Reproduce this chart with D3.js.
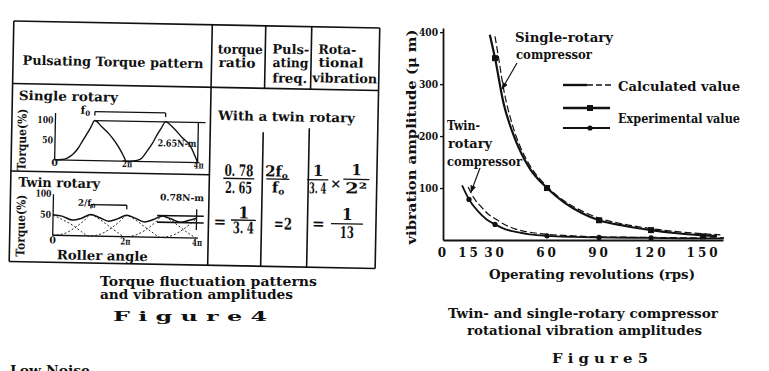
<!DOCTYPE html>
<html lang="en">
<head>
<meta charset="UTF-8">
<title>Figure 4 / Figure 5</title>
<script src="https://cdn.jsdelivr.net/npm/d3@7/dist/d3.min.js"></script>
<style>
  body { margin: 0; background: #fff; }
  svg { display: block; }
  text { font-family: "DejaVu Serif", "Liberation Serif", serif; font-weight: bold; fill: #111; }
  .ln { stroke: #111; fill: none; }
</style>
</head>
<body>
<svg id="main-svg" width="769" height="371"></svg>
<script>
'use strict';
/* ---- Figure 4 : torque patterns, angle in units of pi, torque in % ---- */
const singleAngle  = [0, 0.2, 0.35, 0.5, 0.65, 0.78, 0.9, 1.0, 1.1, 1.3, 1.5, 1.7, 1.85, 1.95, 2.0,
                      2.2, 2.4, 2.57, 2.72, 2.85, 2.97, 3.08, 3.3, 3.55, 3.78, 4.0];
const singleTorque = [0, 1, 5, 14, 30, 50, 68, 84, 100, 85, 68, 46, 25, 8, 0,
                      1, 6, 25, 45, 67, 85, 100, 86, 62, 42, 0];
const twinAngle  = [0, 0.25, 0.55, 0.8, 1.05, 1.3, 1.55, 1.8, 2.05, 2.3, 2.55, 2.8, 3.05, 3.3, 3.55, 3.8, 4.0];
const twinTorque = [49, 46, 37, 42, 51, 44, 36, 42, 51, 44, 36, 42, 51, 44, 37, 42, 47];
const cylAAngle  = [0, 0.3, 0.6, 0.85, 1.05, 1.3, 1.55, 1.8, 2.0, 2.3, 2.6, 2.85, 3.05, 3.3, 3.55, 3.8, 4.0];
const cylATorque = [0, 4, 18, 35, 50, 40, 25, 10, 0, 4, 18, 35, 50, 40, 25, 10, 0];
const cylBAngle  = [0, 0.3, 0.55, 0.8, 1.0, 1.3, 1.6, 1.85, 2.05, 2.3, 2.55, 2.8, 3.0, 3.3, 3.6, 3.85, 4.0];
const cylBTorque = [48, 36, 25, 10, 0, 4, 18, 35, 50, 40, 25, 10, 0, 4, 18, 35, 46];
const torqueTicks = [50, 100];
const angleTicks = [0, 2, 4];
const angleTickLabels = ['0', '2\u03c0', '4\u03c0'];
const singlePeriod = [1.1, 3.08];     // f0 bracket
const twinPeriod = [1.05, 2.05];      // 2f0 bracket
const singleRange = [0, 100];         // 2.65 N-m
const twinRange = [36, 52];           // 0.78 N-m

/* ---- Figure 5 : vibration amplitude (um) vs operating revolutions (rps) ---- */
const singleExpRps = [27, 30, 35, 40, 45, 50, 60, 70, 80, 90, 105, 120, 135, 150, 158];
const singleExpAmp = [395, 350, 262, 208, 168, 138, 100, 72, 52, 38, 27, 19, 13, 9, 8];
const singleCalcRps = [30, 32, 35, 40, 45, 50, 60, 70, 80, 90, 105, 120, 135, 150, 160];
const singleCalcAmp = [392, 352, 290, 222, 176, 144, 103, 75, 56, 42, 30, 22, 16, 12, 10];
const twinExpRps = [11, 15, 20, 25, 30, 35, 40, 50, 60, 75, 90, 120, 150, 162];
const twinExpAmp = [105, 78, 56, 40, 30, 22, 17, 11, 8, 6, 5, 4, 3, 3];
const twinCalcRps = [14.5, 18, 22, 26, 30, 36, 42, 50, 60, 75, 90, 120, 150, 162];
const twinCalcAmp = [102, 80, 64, 50, 41, 29, 21, 15, 11, 8, 6, 5, 4, 4];
const singleMarkRps = [30, 60, 90, 120, 150];
const singleMarkAmp = [350, 100, 38, 19, 7];
const twinMarkRps = [15, 30, 60, 90, 120];
const twinMarkAmp = [78, 30, 8, 5, 4];
const ampTicks = [100, 200, 300, 400];
const rpsTicks = [0, 15, 30, 60, 90, 120, 150];
const legendNames = ['Calculated value', 'Experimental value'];

const svg = d3.select('#main-svg');
svg.append('rect').attr('width', 769).attr('height', 371).attr('fill', '#fff');

function txt(g, s, x, y, size, w, anchor) {
    const t = g.append('text').attr('x', x).attr('y', y).style('font-size', size + 'px').text(s);
    if (w) t.attr('textLength', w).attr('lengthAdjust', 'spacingAndGlyphs');
    if (anchor) t.attr('text-anchor', anchor);
    return t;
}
function seg(g, x1, y1, x2, y2, sw) {
    return g.append('line').attr('class', 'ln')
        .attr('x1', x1).attr('y1', y1).attr('x2', x2).attr('y2', y2)
        .attr('stroke-width', sw || 1.4);
}
const zip = (a, b) => a.map((v, i) => [v, b[i]]);

svg.append('defs').append('marker')
    .attr('id', 'arr').attr('viewBox', '0 0 10 10').attr('refX', 9).attr('refY', 5)
    .attr('markerWidth', 6).attr('markerHeight', 6).attr('orient', 'auto')
    .append('path').attr('d', 'M0,1 L10,5 L0,9 Z').attr('fill', '#111');

/* ================= Figure 4 (scan is tilted a little) ================= */
const g4 = svg.append('g').attr('transform', 'rotate(1.1,196,143)');

// table frame
[[11.5, 24.5, 377.5, 24.5], [11.5, 265, 377.5, 265], [11.5, 24.5, 11.5, 265], [377.5, 24.5, 377.5, 265],
 [210, 24.5, 210, 265], [11.5, 87, 377.5, 87], [263.5, 24.5, 263.5, 87], [309.5, 24.5, 309.5, 87],
 [263, 131, 263, 265], [309, 126, 309, 265], [11.5, 174.5, 210, 174.5]]
    .forEach(d => seg(g4, d[0], d[1], d[2], d[3], 1.6));

// header
txt(g4, 'Pulsating Torque pattern', 21, 68, 13, 181);
txt(g4, 'torque', 216, 53, 13, 45);
txt(g4, 'ratio', 217, 66.5, 13, 37);
txt(g4, 'Puls-', 270.5, 52, 13, 37);
txt(g4, 'ating', 271, 65.5, 13, 36);
txt(g4, 'freq.', 271, 81, 13, 35);
txt(g4, 'Rota-', 316.5, 51.3, 13, 38);
txt(g4, 'tional', 317, 64.5, 13, 45);
txt(g4, 'vibration', 311, 80, 13, 65);

txt(g4, 'Single rotary', 18, 103.3, 13, 99);
txt(g4, 'Twin rotary', 19, 190, 13, 82);
txt(g4, 'Roller angle', 59, 262, 13, 91);
txt(g4, 'Torque(%)', 0, 0, 12, 62, 'middle').attr('transform', 'translate(26,143) rotate(-90)');
txt(g4, 'Torque(%)', 0, 0, 12, 62, 'middle').attr('transform', 'translate(26.5,229) rotate(-90)');

// single rotary torque plot
const xS = d3.scaleLinear([0, 4], [55, 198]);
const yS = d3.scaleLinear([0, 100], [162.5, 122.5]);
seg(g4, xS(0), 115.7, xS(0), yS(0), 1.3);
seg(g4, xS(0), yS(0), xS(4.05), yS(0), 1.3);
torqueTicks.forEach(v => txt(g4, v, xS(0) - 2, yS(v) + 3.5, 9.5, v === 100 ? 16 : 11, 'end'));
angleTicks.forEach((a, i) => txt(g4, angleTickLabels[i], xS(a) + (a === 0 ? 0 : 1), 168.5, 9.5, a === 0 ? 0 : 10, 'middle'));
g4.append('path').attr('class', 'ln').attr('stroke-width', 1.4)
    .attr('d', d3.line().x(d => xS(d[0])).y(d => yS(d[1])).curve(d3.curveMonotoneX)(zip(singleAngle, singleTorque)));
// 100 % reference + dimension
seg(g4, xS(singlePeriod[0]), yS(singleRange[1]), xS(4.2), yS(singleRange[1]), 1.3);
seg(g4, xS(4), yS(singleRange[1]), xS(4), yS(singleRange[0]), 1.3);
txt(g4, '2.65N-m', 157.5, 147, 9.5, 39);
// f0 bracket
const bS = yS(100) - 9;
seg(g4, xS(singlePeriod[0]), bS, xS(singlePeriod[1]), bS, 1.3);
singlePeriod.forEach(a => seg(g4, xS(a), bS, xS(a), bS + 4, 1.3));
const f0s = txt(g4, 'f', 80, 116, 11);
f0s.append('tspan').attr('dy', 2).style('font-size', '7px').text('0');

// twin rotary torque plot
const xT = d3.scaleLinear([0, 4], [54.5, 198]);
const yT = d3.scaleLinear([0, 100], [238, 196]);
seg(g4, xT(0), 197, xT(0), yT(0), 1.3);
seg(g4, xT(0), yT(0), xT(4.05), yT(0), 1.3);
torqueTicks.forEach(v => txt(g4, v, xT(0) - 2, yT(v) + 3.5, 9.5, v === 100 ? 16 : 11, 'end'));
angleTicks.forEach((a, i) => txt(g4, angleTickLabels[i], xT(a) + (a === 0 ? 0 : 1), 246, 9.5, a === 0 ? 0 : 10, 'middle'));
const lineT = d3.line().x(d => xT(d[0])).y(d => yT(d[1])).curve(d3.curveMonotoneX);
[zip(cylAAngle, cylATorque), zip(cylBAngle, cylBTorque)].forEach(d =>
    g4.append('path').attr('class', 'ln').attr('stroke-width', 0.9).attr('stroke-dasharray', '2,2').attr('d', lineT(d)));
g4.append('path').attr('class', 'ln').attr('stroke-width', 1.5).attr('d', lineT(zip(twinAngle, twinTorque)));
twinRange.forEach(v => seg(g4, xT(2.9), yT(v), xT(4.2), yT(v), 1.6));
seg(g4, xT(4), yT(twinRange[1]) - 7, xT(4), yT(twinRange[0]) + 7, 1.3);
txt(g4, '0.78N-m', 161, 201, 9, 44);
const bT = yT(51) - 10;
seg(g4, xT(twinPeriod[0]), bT, xT(twinPeriod[1]), bT, 1.3);
twinPeriod.forEach(a => seg(g4, xT(a), bT, xT(a), bT + 4, 1.3));
const f0t = txt(g4, '2/f', 79, 208, 9);
f0t.append('tspan').attr('dy', 2).style('font-size', '6px').text('0');

// ratio columns
txt(g4, 'With a twin rotary', 217.5, 119.5, 13, 137);
function frac(num, den, cx, nb, ly, db, w, size) {
    txt(g4, num, cx, nb, size, num.length > 1 ? w : 0, 'middle');
    seg(g4, cx - w / 2 - 1, ly, cx + w / 2 + 1, ly, 1.3);
    txt(g4, den, cx, db, size, den.length > 1 ? w - 2 : 0, 'middle');
}
frac('0. 78', '2. 65', 239.5, 175.2, 177.7, 192.5, 29, 16);
const n2 = txt(g4, '2f', 277, 175, 15, 0, 'middle');
n2.append('tspan').attr('dy', 2).style('font-size', '9px').text('o');
seg(g4, 267, 177.5, 290, 177.5, 1.3);
const d2 = txt(g4, 'f', 279, 191, 15, 0, 'middle');
d2.append('tspan').attr('dy', 2).style('font-size', '9px').text('o');
frac('1', '3. 4', 318.5, 173.6, 177.4, 191, 19, 15);
txt(g4, '\u00d7', 336.5, 185.5, 13, 0, 'middle');
frac('1', '2\u00b2', 357, 172, 176.3, 190.3, 24, 15);
txt(g4, '=', 221.5, 226.5, 15, 0, 'middle');
frac('1', '3. 4', 245, 217.5, 219.3, 232.5, 23, 16);
txt(g4, '=2', 284.5, 227.7, 16, 18, 'middle');
txt(g4, '=', 320, 226.5, 15, 0, 'middle');
frac('1', '13', 348.5, 217, 221, 235.2, 30, 16);
g4.selectAll('text').filter(function () { return this.textContent === '13'; }).attr('textLength', 14);

// caption
txt(svg, 'Torque fluctuation patterns', 100, 286, 13, 217);
txt(svg, 'and vibration amplitudes', 100, 298.5, 13, 193);
txt(svg, 'F i g u r e   4', 113, 320.5, 13, 154);
txt(svg, 'Low Noise', 10, 375, 13, 80);

/* ================= Figure 5 ================= */
const x5 = d3.scaleLinear([0, 161.5], [443, 723]);
const y5 = d3.scaleLinear([0, 408], [240, 28]);
const g5 = svg.append('g');

const yAxis = g5.append('g').attr('transform', `translate(${x5(0)},0)`)
    .call(d3.axisLeft(y5).tickValues(ampTicks).tickSize(3).tickSizeOuter(0).tickPadding(2));
yAxis.select('.domain').attr('stroke', '#111').attr('stroke-width', 1.8);
yAxis.selectAll('.tick line').attr('stroke', '#111').attr('stroke-width', 1.3);
yAxis.selectAll('.tick text').style('font-family', '"DejaVu Serif", serif').style('font-weight', 'bold')
    .style('font-size', '10.5px').attr('fill', '#111').attr('textLength', 19).attr('lengthAdjust', 'spacingAndGlyphs');

const xAxis = g5.append('g').attr('transform', `translate(0,${y5(0)})`)
    .call(d3.axisBottom(x5).tickValues(rpsTicks).tickSize(0).tickSizeOuter(0).tickPadding(8));
xAxis.select('.domain').attr('stroke', '#111').attr('stroke-width', 2.2);
xAxis.selectAll('.tick text').style('font-family', '"DejaVu Serif", serif').style('font-weight', 'bold')
    .style('font-size', '12px').attr('fill', '#111').style('letter-spacing', '3px');

txt(g5, 'Operating revolutions (rps)', 592, 279, 13, 206, 'middle');
txt(g5, 'vibration amplitude (\u03bc m)', 0, 0, 13, 215, 'middle').attr('transform', 'translate(416,137) rotate(-90)');

const line5 = d3.line().x(d => x5(d[0])).y(d => y5(d[1])).curve(d3.curveMonotoneX);
g5.append('path').attr('class', 'ln').attr('stroke-width', 1.2).attr('stroke-dasharray', '7,3')
    .attr('d', line5(zip(singleCalcRps, singleCalcAmp)));
g5.append('path').attr('class', 'ln').attr('stroke-width', 2.2)
    .attr('d', line5(zip(singleExpRps, singleExpAmp)));
g5.append('path').attr('class', 'ln').attr('stroke-width', 1.2).attr('stroke-dasharray', '7,3')
    .attr('d', line5(zip(twinCalcRps, twinCalcAmp)));
g5.append('path').attr('class', 'ln').attr('stroke-width', 1.8)
    .attr('d', line5(zip(twinExpRps, twinExpAmp)));

g5.selectAll('rect.sm').data(zip(singleMarkRps, singleMarkAmp)).enter().append('rect')
    .attr('class', 'sm').attr('x', d => x5(d[0]) - 3).attr('y', d => y5(d[1]) - 3)
    .attr('width', 6).attr('height', 6).attr('fill', '#111');
g5.selectAll('circle.tm').data(zip(twinMarkRps, twinMarkAmp)).enter().append('circle')
    .attr('class', 'tm').attr('cx', d => x5(d[0])).attr('cy', d => y5(d[1])).attr('r', 2.6).attr('fill', '#111');

// annotations
txt(g5, 'Single-rotary', 515, 42, 13, 98);
txt(g5, 'compressor', 516, 59, 13, 76);
seg(g5, 517, 63, 502, 89, 1.2).attr('marker-end', 'url(#arr)');
txt(g5, 'Twin-', 447, 130, 13, 33);
txt(g5, 'rotary', 448, 148, 13, 44);
txt(g5, 'compressor', 447, 165.5, 13, 75);
seg(g5, 480, 168, 471, 192, 1.2).attr('marker-end', 'url(#arr)');

// legend
seg(g5, 563, 85, 587, 85, 2.4);
seg(g5, 587, 85, 612, 85, 1.3).attr('stroke-dasharray', '6,3');
seg(g5, 563, 108, 610, 108, 2.6);
g5.append('rect').attr('x', 587).attr('y', 105).attr('width', 6).attr('height', 6).attr('fill', '#111');
seg(g5, 563, 128, 610, 128, 1.8);
g5.append('circle').attr('cx', 590).attr('cy', 128).attr('r', 2.6).attr('fill', '#111');
txt(g5, legendNames[0], 618, 90.5, 13, 122);
txt(g5, legendNames[1], 618, 122.5, 13, 122);

// caption
txt(svg, 'Twin- and single-rotary compressor', 448, 317.5, 13, 270);
txt(svg, 'rotational vibration amplitudes', 467, 334.5, 13, 235);
txt(svg, 'F i g u r e   5', 552, 362.5, 13, 96);
</script>
</body>
</html>
